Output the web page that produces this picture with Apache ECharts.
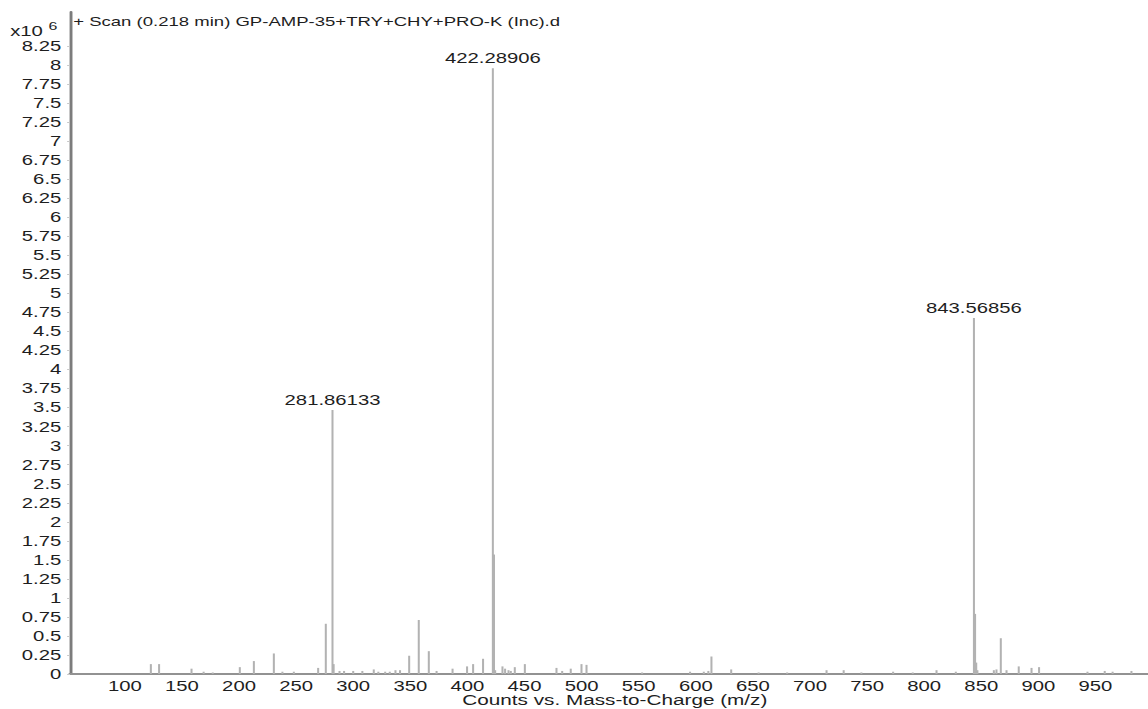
<!DOCTYPE html>
<html>
<head>
<meta charset="utf-8">
<title>Scan 0.218 min</title>
<script src="https://cdn.jsdelivr.net/npm/echarts@6/dist/echarts.min.js"></script>
<style>
  html, body { margin: 0; padding: 0; background: #ffffff; overflow: hidden; }
  /* the spectrum is laid out narrow and widened horizontally */
  #main {
    width: 792px; height: 709px;
    transform: scaleX(1.4495); transform-origin: 0 0;
  }
</style>
</head>
<body>
<div id="main"></div>
<script>
// m/z of each centroid peak
const peakMz = [
  122.8, 130.0, 158.4, 169.0, 177.0, 200.7, 213.0, 230.5, 238.0, 248.0,
  269.3, 276.0, 281.86133, 282.86, 288.0, 292.0, 300.0, 308.0, 318.0, 322.0,
  328.0, 332.0, 337.0, 341.0, 349.0, 357.4, 366.2, 373.0, 387.0, 399.7,
  405.0, 413.7, 422.28906, 423.29, 424.3, 430.7, 433.0, 436.0, 438.0, 441.5,
  450.3, 478.0, 483.0, 490.5, 499.9, 504.3, 553.0, 595.0, 607.0, 611.0,
  613.7, 631.0, 655.0, 680.0, 714.5, 729.5, 745.0, 772.8, 790.0, 810.8,
  827.7, 843.56856, 844.57, 845.57, 846.6, 861.0, 863.3, 867.1, 872.1, 882.8,
  894.0, 900.6, 943.0, 958.1, 965.0, 981.5
];
// abundance of each peak, in units of 10^6 counts
const peakCounts = [
  0.13, 0.13, 0.07, 0.03, 0.02, 0.09, 0.17, 0.27, 0.03, 0.03,
  0.08, 0.66, 3.47, 0.13, 0.04, 0.04, 0.04, 0.04, 0.06, 0.03,
  0.03, 0.03, 0.05, 0.05, 0.24, 0.71, 0.30, 0.04, 0.07, 0.10,
  0.13, 0.20, 7.96, 1.57, 0.05, 0.10, 0.07, 0.05, 0.04, 0.09,
  0.13, 0.08, 0.04, 0.07, 0.13, 0.12, 0.02, 0.03, 0.03, 0.04,
  0.23, 0.06, 0.02, 0.02, 0.05, 0.05, 0.02, 0.03, 0.02, 0.05,
  0.03, 4.68, 0.79, 0.15, 0.05, 0.05, 0.06, 0.47, 0.05, 0.10,
  0.08, 0.09, 0.03, 0.04, 0.03, 0.04
];
// peaks annotated with their m/z
const labelledMz = [281.86133, 422.28906, 843.56856];

const xTickValues = [100, 150, 200, 250, 300, 350, 400, 450, 500, 550, 600, 650, 700, 750, 800, 850, 900, 950];
const yTickValues = [0, 0.25, 0.5, 0.75, 1, 1.25, 1.5, 1.75, 2, 2.25, 2.5, 2.75, 3, 3.25, 3.5, 3.75,
  4, 4.25, 4.5, 4.75, 5, 5.25, 5.5, 5.75, 6, 6.25, 6.5, 6.75, 7, 7.25, 7.5, 7.75, 8, 8.25];

const FONT = 'Liberation Sans, Arial, Helvetica, sans-serif';
const INK = '#1e1e1e';
const FRAME = '#7c7c7c';

const peaks = peakMz.map((mz, i) => {
  const item = { value: [mz, peakCounts[i]] };
  if (labelledMz.includes(mz)) item.label = { show: true };
  return item;
});

const chart = echarts.init(document.getElementById('main'), null, { renderer: 'svg' });

chart.setOption({
  animation: false,
  backgroundColor: '#ffffff',
  title: {
    text: '+ Scan (0.218 min) GP-AMP-35+TRY+CHY+PRO-K (Inc).d',
    left: 50.5, top: 15, padding: 0,
    textStyle: { fontFamily: FONT, fontSize: 12.8, fontWeight: 'normal', color: INK }
  },
  graphic: [
    { type: 'text', left: 7, top: 24.5,
      style: { text: 'x10', fontFamily: FONT, fontSize: 14, lineHeight: 12, fill: INK } },
    { type: 'text', left: 33.5, top: 20.5,
      style: { text: '6', fontFamily: FONT, fontSize: 11, lineHeight: 10, fill: INK } }
  ],
  grid: { left: 48.3, right: 0, top: 12, bottom: 35, outerBoundsMode: 'none' },
  xAxis: [{
    type: 'value', min: 52, max: 996,
    name: 'Counts vs. Mass-to-Charge (m/z)',
    nameLocation: 'middle', nameGap: 20.5, nameMoveOverlap: false,
    nameTextStyle: { fontFamily: FONT, fontSize: 14.3, lineHeight: 12, color: INK, padding: [0, 0, 0, 8] },
    axisLine: { show: true, onZero: false, lineStyle: { color: FRAME, width: 2 } },
    axisTick: { show: false },
    splitLine: { show: false },
    axisLabel: { customValues: xTickValues, margin: 6.5, fontFamily: FONT, fontSize: 14, lineHeight: 12, color: INK }
  }, {
    // top edge of the frame
    type: 'value', position: 'top', min: 52, max: 996,
    axisLine: { show: true, lineStyle: { color: '#929292', width: 2 } },
    axisTick: { show: false }, axisLabel: { show: false }, splitLine: { show: false }
  }],
  yAxis: {
    type: 'value', min: 0, max: 8.7,
    axisLine: { show: true, lineStyle: { color: FRAME, width: 2 } },
    axisTick: { show: true, customValues: yTickValues, length: 2, lineStyle: { color: '#c8c8c8' } },
    splitLine: { show: false },
    axisLabel: {
      customValues: yTickValues, margin: 6,
      fontFamily: FONT, fontSize: 14, lineHeight: 12, color: INK,
      formatter: v => String(+v.toFixed(2))
    }
  },
  series: [{
    type: 'bar',
    data: peaks,
    barWidth: 1.4,
    itemStyle: { color: '#b2b2b2' },
    label: {
      show: false, position: 'top', distance: 3,
      fontFamily: FONT, fontSize: 14, color: INK,
      formatter: p => p.value[0].toFixed(5)
    },
    silent: true
  }]
});
</script>
</body>
</html>
